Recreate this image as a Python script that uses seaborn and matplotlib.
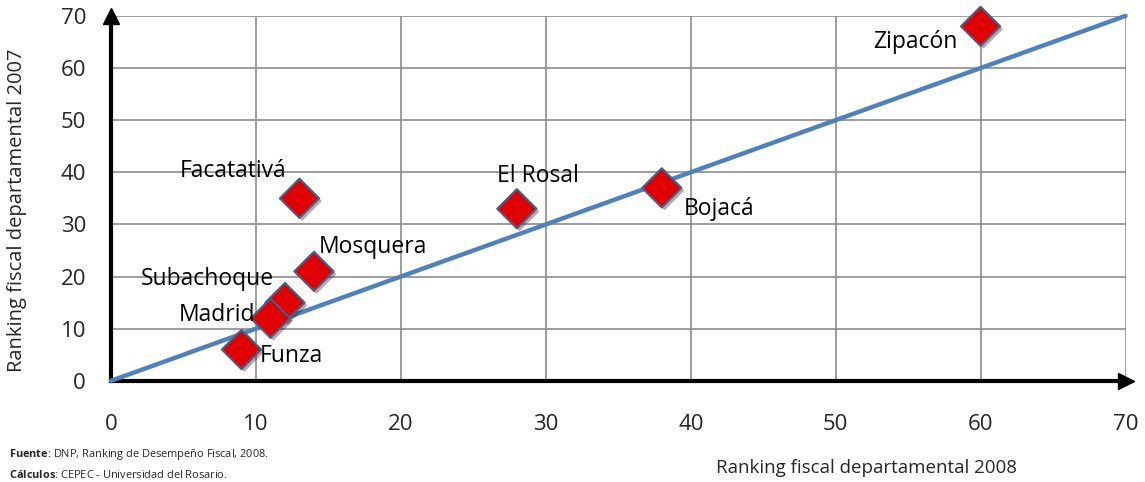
import matplotlib
matplotlib.use("Agg")
import matplotlib.pyplot as plt
import matplotlib.patheffects as pe
import seaborn as sns
import pandas as pd

# Municipal fiscal ranking, 2008 vs 2007
municipios = ["Zipacón", "Bojacá", "El Rosal", "Facatativá", "Mosquera",
              "Subachoque", "Madrid", "Funza"]
ranking_2008 = [60, 38, 28, 13, 14, 12, 11, 9]
ranking_2007 = [68, 37, 33, 35, 21, 15, 12, 6]

# Reference diagonal (same rank both years)
diag_x = [0, 70]
diag_y = [0, 70]

ticks = [0, 10, 20, 30, 40, 50, 60, 70]

# label offsets in pixels (dx, dy, ha)
label_pos = {
    "Zipacón": (-23, -16, "right"),
    "Bojacá": (22, -21, "left"),
    "El Rosal": (21, 33, "center"),
    "Facatativá": (-13, 27, "right"),
    "Mosquera": (5, 24, "left"),
    "Subachoque": (-11, 24, "right"),
    "Madrid": (-15, 3, "right"),
    "Funza": (18, -6, "left"),
}

df = pd.DataFrame({"municipio": municipios, "x": ranking_2008, "y": ranking_2007})
diag = pd.DataFrame({"x": diag_x, "y": diag_y})

sns.set_theme(style="white")
plt.rcParams["font.family"] = ["Open Sans", "DejaVu Sans"]
plt.rcParams["mathtext.fontset"] = "custom"
plt.rcParams["mathtext.rm"] = "Open Sans"
plt.rcParams["mathtext.bf"] = "Open Sans:bold"

fig = plt.figure(figsize=(11.45, 4.82), dpi=100)
ax = fig.add_axes([0.097, 0.21, 0.886, 0.757])

ax.set_xlim(0, 70)
ax.set_ylim(0, 70)
ax.set_xticks(ticks)
ax.set_yticks(ticks)
ax.grid(True, color="#8c8c8c", linewidth=1.2)
ax.set_axisbelow(True)

sns.lineplot(data=diag, x="x", y="y", ax=ax, color="#4F81BD", linewidth=3.2,
             zorder=3, clip_on=False)

sns.scatterplot(data=df, x="x", y="y", ax=ax, marker="D", s=400,
                color="#E00000", edgecolor="#41628F", linewidth=1.5,
                zorder=4, clip_on=False)
for coll in ax.collections:
    coll.set_path_effects([pe.SimplePatchShadow(offset=(2, -2), alpha=0.35),
                           pe.Normal()])

for name, xv, yv in zip(municipios, ranking_2008, ranking_2007):
    dx, dy, ha = label_pos[name]
    ax.annotate(name, (xv, yv), xytext=(dx, dy), textcoords="offset pixels",
                ha=ha, va="center", fontsize=16.5, color="black", zorder=5)

# spines: thick black axes with arrowheads
for side in ["top", "right"]:
    ax.spines[side].set_visible(False)
for side in ["left", "bottom"]:
    ax.spines[side].set_color("black")
    ax.spines[side].set_linewidth(3)
    ax.spines[side].set_zorder(2)
ax.plot([0], [70], marker="^", color="black", markersize=11,
        clip_on=False, zorder=2)
ax.plot([70], [0], marker=">", color="black", markersize=11,
        clip_on=False, zorder=2)

ax.tick_params(axis="both", length=0, labelsize=16)
ax.tick_params(axis="x", pad=24)
ax.tick_params(axis="y", pad=18)

ax.set_xlabel("")
ax.set_ylabel("Ranking fiscal departamental 2007", fontsize=14.5)
ax.yaxis.set_label_coords(-0.083, 0.468)
fig.text(0.757, 0.03, "Ranking fiscal departamental 2008", fontsize=13.5,
         ha="center", va="center")

fig.text(0.008, 0.058, r"$\mathbf{Fuente}$: DNP, Ranking de Desempeño Fiscal, 2008.",
         fontsize=7.9, ha="left", va="center")
fig.text(0.008, 0.015, r"$\mathbf{Cálculos}$: CEPEC - Universidad del Rosario.",
         fontsize=7.9, ha="left", va="center")

fig.savefig("out.png", dpi=100)
